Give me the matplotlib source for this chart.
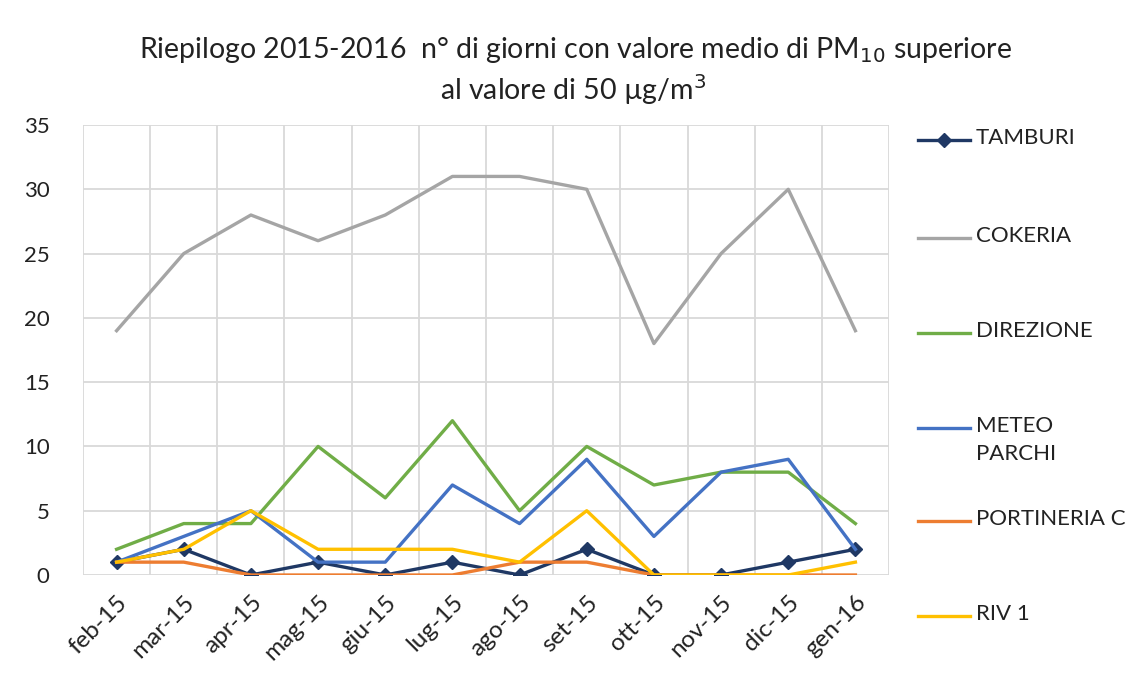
import matplotlib
matplotlib.use("Agg")
import matplotlib.pyplot as plt
from matplotlib.lines import Line2D

plt.rcParams['font.family'] = ['Lato', 'DejaVu Sans']

categories = ["feb-15", "mar-15", "apr-15", "mag-15", "giu-15", "lug-15",
              "ago-15", "set-15", "ott-15", "nov-15", "dic-15", "gen-16"]
tamburi = [1, 2, 0, 1, 0, 1, 0, 2, 0, 0, 1, 2]
cokeria = [19, 25, 28, 26, 28, 31, 31, 30, 18, 25, 30, 19]
direzione = [2, 4, 4, 10, 6, 12, 5, 10, 7, 8, 8, 4]
meteo_parchi = [1, 3, 5, 1, 1, 7, 4, 9, 3, 8, 9, 2]
portineria_c = [1, 1, 0, 0, 0, 0, 1, 1, 0, 0, 0, 0]
riv1 = [1, 2, 5, 2, 2, 2, 1, 5, 0, 0, 0, 1]

series_names = ["TAMBURI", "COKERIA", "DIREZIONE", "METEO\nPARCHI", "PORTINERIA C", "RIV 1"]
series_values = [tamburi, cokeria, direzione, meteo_parchi, portineria_c, riv1]
series_colors = ["#1f3864", "#a5a5a5", "#70ad47", "#4472c4", "#ed7d31", "#ffc000"]
y_ticks = [0, 5, 10, 15, 20, 25, 30, 35]

fig = plt.figure(figsize=(11.39, 6.86), dpi=100)
ax = fig.add_axes([83/1139, 1-575/686, (889-83)/1139, (575-125)/686])

x = list(range(len(categories)))
for name, vals, col in zip(series_names, series_values, series_colors):
    if name == "TAMBURI":
        ax.plot(x, vals, color=col, lw=2.4, marker='D', markersize=7.5,
                markerfacecolor=col, markeredgecolor=col, zorder=3)
    else:
        ax.plot(x, vals, color=col, lw=2.4, zorder=3)

ax.set_xlim(-0.5, len(categories) - 0.5)
ax.set_ylim(0, 35)
ax.set_yticks(y_ticks)
ax.set_yticklabels([str(v) for v in y_ticks], fontsize=16, color="#222222")
ax.set_xticks(x)
ax.set_xticklabels(categories, rotation=45, ha='right', rotation_mode='anchor',
                   fontsize=17.5, color="#222222")
ax.tick_params(axis='both', length=0)
ax.tick_params(axis='y', pad=24)
ax.tick_params(axis='x', pad=12)

for b in [i - 0.5 for i in range(len(categories) + 1)]:
    ax.axvline(b, color="#d9d9d9", lw=1.3, zorder=1)
for v in y_ticks:
    ax.axhline(v, color="#d9d9d9", lw=1.3, zorder=1)
for s in ax.spines.values():
    s.set_visible(False)

fig.text(575/1139, 1-50/686,
         r"Riepilogo 2015-2016  n° di giorni con valore medio di PM$_{10}$ superiore",
         ha='center', va='center', fontsize=20.5, color="#222222")
fig.text(573/1139, 1-90/686, r"al valore di 50 µg/m$^{3}$",
         ha='center', va='center', fontsize=20.5, color="#222222")

legend_y = [140, 238, 333, 428, 521, 616]
for name, col, yy in zip(series_names, series_colors, legend_y):
    yf = 1 - yy/686
    ln = Line2D([918/1139, 970/1139], [yf, yf], transform=fig.transFigure,
                color=col, lw=2.4)
    fig.add_artist(ln)
    if name == "TAMBURI":
        mk = Line2D([944/1139], [yf], transform=fig.transFigure, color=col,
                    marker='D', markersize=7.5, lw=0)
        fig.add_artist(mk)
    fig.text(976/1139, yf + 0.017, name, ha='left', va='top', fontsize=16,
             color="#222222", linespacing=1.45)

fig.savefig("out.png", dpi=100, facecolor="white")
